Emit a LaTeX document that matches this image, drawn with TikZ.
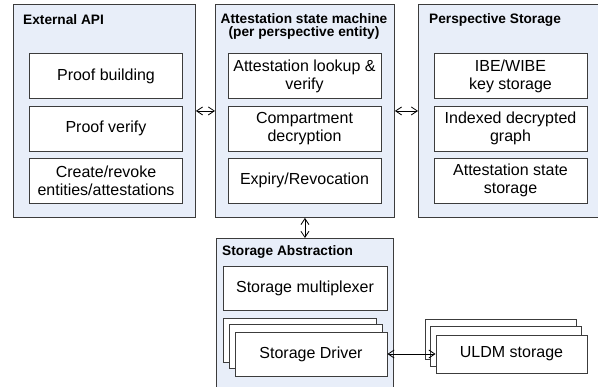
\documentclass[tikz,border=0pt]{standalone}
\usepackage{fontspec}
\setmainfont{Liberation Sans}
\usetikzlibrary{arrows.meta}
\definecolor{panelfill}{HTML}{E8EEF9}
\definecolor{edgecol}{HTML}{3C3C3C}
\begin{document}
\begin{tikzpicture}[x=1pt,y=-1pt,
  panel/.style={draw=edgecol, fill=panelfill, line width=0.9pt, inner sep=0pt, anchor=north west},
  box/.style={draw=edgecol, fill=white, line width=0.9pt, inner sep=0pt, align=center,
    font=\fontsize{16}{18}\selectfont},
  title/.style={font=\fontsize{13.7}{13.5}\selectfont\bfseries, inner sep=0pt},
  biarrow/.style={{Straight Barb[length=6pt,width=8pt]}-{Straight Barb[length=6pt,width=8pt]}, line width=0.8pt, draw=black}
]
\useasboundingbox (0,0) rectangle (598,387);

% panels
\node[panel, minimum width=182pt, minimum height=213pt] (ext) at (13,4) {};
\node[panel, minimum width=179pt, minimum height=213pt] (att) at (215,4) {};
\node[panel, minimum width=184pt, minimum height=213pt] (per) at (418,4) {};
\node[panel, minimum width=177pt, minimum height=160pt] (sa) at (216,238) {};

% titles
\node[title, anchor=west] (extt) at (23,20) {External API};
\node[title, align=center] (attt) at (304,26.5) {Attestation state machine\\(per perspective entity)};
\node[title, anchor=west] (pert) at (429,20) {Perspective Storage};
\node[title, anchor=west] (sat) at (222,252) {Storage Abstraction};

% External API boxes
\node[box, minimum width=153pt, minimum height=45pt] (pb) at (106,76) {Proof building};
\node[box, minimum width=153pt, minimum height=45pt] (pv) at (106,128.5) {Proof verify};
\node[box, minimum width=153pt, minimum height=45pt] (cr) at (106,180.5) {Create/revoke\\entities/attestations};

% Attestation boxes
\node[box, minimum width=153pt, minimum height=45pt] (al) at (304.5,76) {Attestation lookup \&\\verify};
\node[box, minimum width=153pt, minimum height=45pt] (cd) at (304.5,128.5) {Compartment\\decryption};
\node[box, minimum width=153pt, minimum height=45pt] (er) at (304.5,180.5) {Expiry/Revocation};

% Perspective boxes
\node[box, minimum width=153pt, minimum height=45pt] (ibe) at (510.5,76) {IBE/WIBE\\key storage};
\node[box, minimum width=153pt, minimum height=45pt] (idg) at (510.5,128.5) {Indexed decrypted\\graph};
\node[box, minimum width=153pt, minimum height=45pt] (ass) at (510.5,180.5) {Attestation state\\storage};

% Storage abstraction
\node[box, minimum width=164pt, minimum height=44pt] (mux) at (305,288) {Storage multiplexer};
\node[box, minimum width=153pt, minimum height=44pt] (drv3) at (299.5,340) {};
\node[box, minimum width=153pt, minimum height=44pt] (drv2) at (305.5,346.5) {};
\node[box, minimum width=152pt, minimum height=44pt] (drv) at (311,354) {Storage Driver};

% ULDM stack
\node[box, minimum width=151pt, minimum height=40pt] (uldm3) at (500.5,339) {};
\node[box, minimum width=151pt, minimum height=40pt] (uldm2) at (506,346.5) {};
\node[box, minimum width=151pt, minimum height=38pt] (uldm) at (511.5,354) {ULDM storage};

% connectors
\draw[biarrow] (ext.east) -- (att.west);
\draw[biarrow] (att.east) -- (per.west);
\draw[biarrow] (att.south) -- (sa.north);
\draw[biarrow] (drv.east) -- (uldm.west);
\end{tikzpicture}
\end{document}
